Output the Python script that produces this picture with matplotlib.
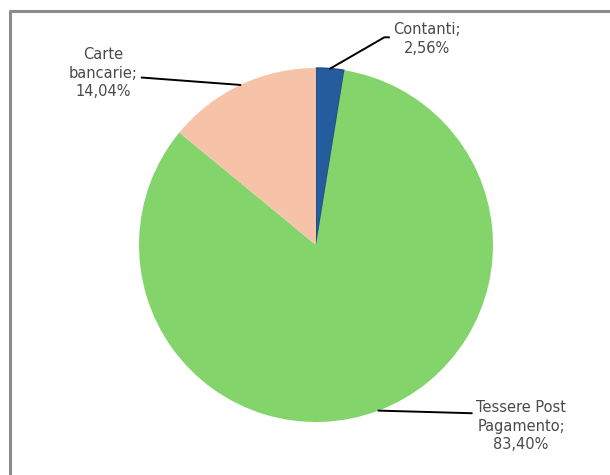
import numpy as np
import matplotlib
matplotlib.use('Agg')
import matplotlib.pyplot as plt

# dati (quota per metodo di pagamento)
labels = ['Contanti', 'Tessere Post\nPagamento', 'Carte\nbancarie']
values = [2.56, 83.40, 14.04]
value_txt = ['2,56%', '83,40%', '14,04%']
colors = ['#245C9E', '#84D46C', '#F7C3A8']

# posizione delle etichette (pixel della figura, y dal basso)
label_pos = [(427, 436), (521, 49), (103, 402)]
rel_pos = [(0.0, 0.55), (0.0, 0.74), (1.0, 0.42)]
conn = ['angle,angleA=0,angleB=30,rad=0', 'arc3', 'arc3']

W, H = 610, 475
cx, cy, R = 316, 230, 177

fig = plt.figure(figsize=(W / 100, H / 100), dpi=100)
ax = fig.add_axes([0, 0, 1, 1])

# cornice grigia
ax.plot([10, 10, W + 5], [-5, H - 11, H - 11], color='#8c8c8c', lw=2.2,
        solid_capstyle='butt')

wedges, _ = ax.pie(values, colors=colors, startangle=90, counterclock=False,
                   center=(cx, cy), radius=R, frame=True,
                   wedgeprops=dict(edgecolor='none'))
wedges[0].set_edgecolor('#1d4a7e')
wedges[0].set_linewidth(1.0)
ax.set_xlim(0, W)
ax.set_ylim(0, H)
ax.set_aspect('equal')
ax.axis('off')

for w, lab, txt, pos, rp, cs in zip(wedges, labels, value_txt, label_pos, rel_pos, conn):
    ang = np.deg2rad((w.theta1 + w.theta2) / 2)
    px = cx + R * np.cos(ang)
    py = cy + R * np.sin(ang)
    ax.annotate(lab + ';\n' + txt, xy=(px, py), xytext=pos,
                ha='center', va='center', fontsize=10.5, color='#4a4a4a',
                family='DejaVu Sans', linespacing=1.32,
                arrowprops=dict(arrowstyle='-', color='black', lw=1.4,
                                relpos=rp, shrinkA=1, shrinkB=0,
                                connectionstyle=cs))

fig.savefig('out.png', dpi=100, facecolor='white')
